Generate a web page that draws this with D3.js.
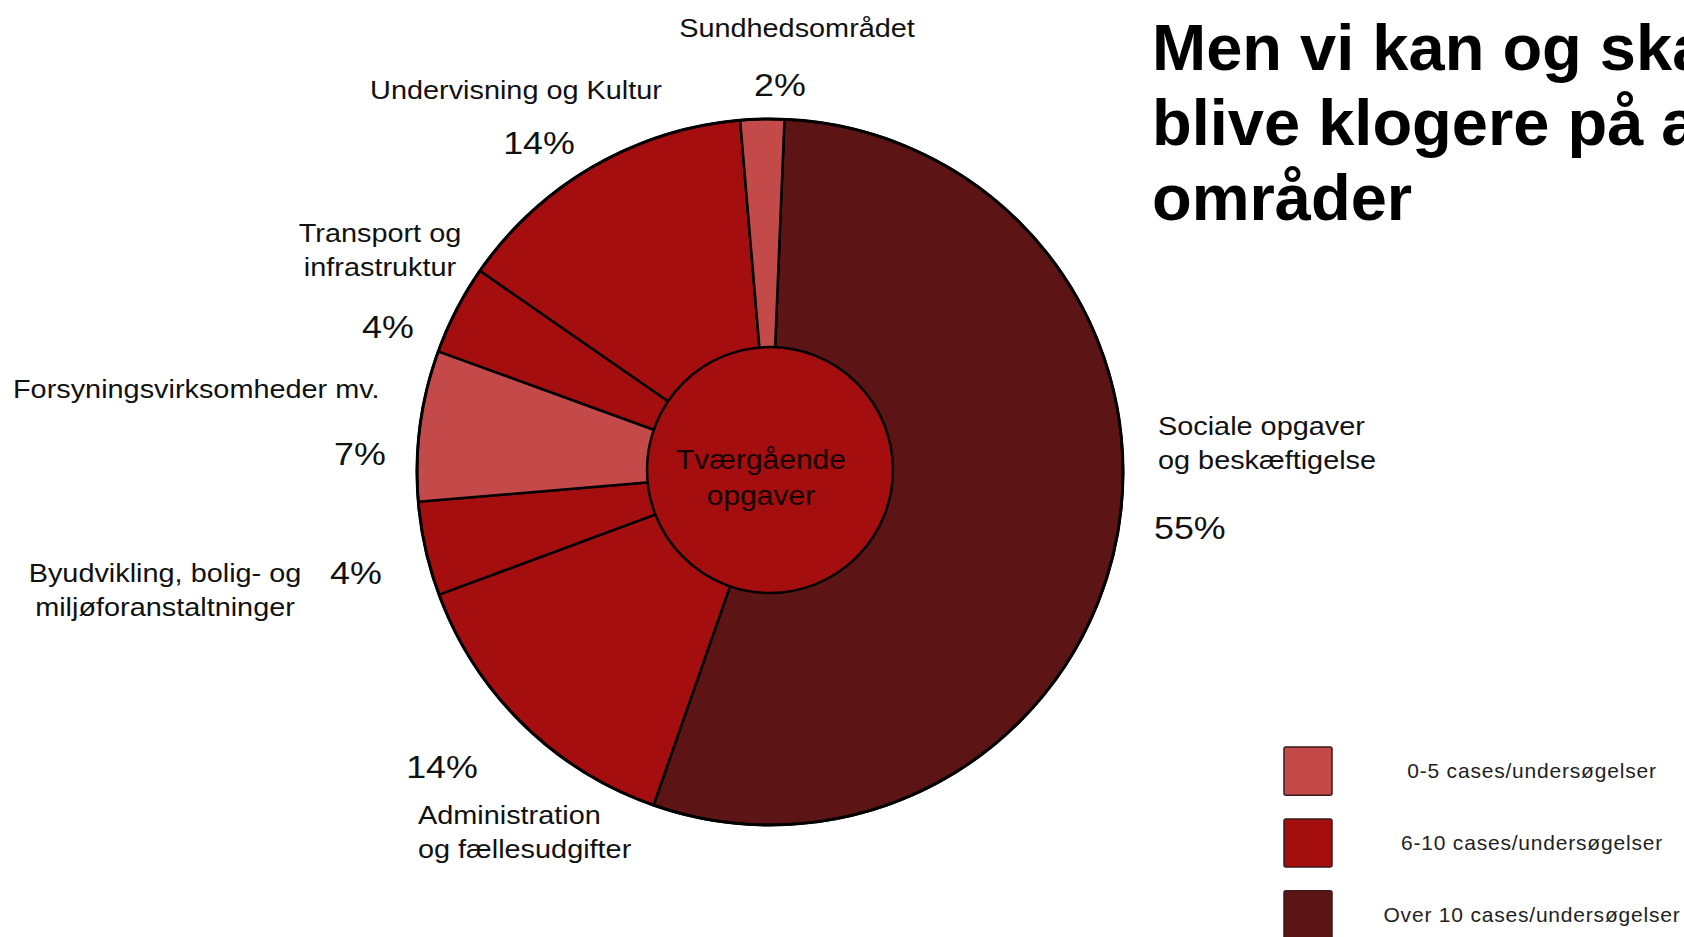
<!DOCTYPE html>
<html lang="da">
<head>
    <meta charset="UTF-8">
    <title>Tværgående opgaver - fordeling</title>
    <script src="https://cdnjs.cloudflare.com/ajax/libs/d3/7.8.5/d3.min.js"></script>
    <style>
        body {
            margin: 0;
            padding: 0;
            background: #fff;
        }
        svg {
            display: block;
            font-family: "Liberation Sans", Arial, sans-serif;
        }
    </style>
</head>
<body>
    <svg width="1684" height="937"></svg>

    <script>
        // data
        const categories = [
            "Sociale opgaver og beskæftigelse",
            "Administration og fællesudgifter",
            "Byudvikling, bolig- og miljøforanstaltninger",
            "Forsyningsvirksomheder mv.",
            "Transport og infrastruktur",
            "Undervisning og Kultur",
            "Sundhedsområdet"
        ];
        const shares = [54.7, 14.0, 4.3, 6.9, 4.1, 14.0, 2.0];
        // which legend group each area belongs to (0 = 0-5, 1 = 6-10, 2 = over 10)
        const caseGroup = [2, 1, 1, 0, 1, 1, 0];
        const legendLabels = ["0-5 cases/undersøgelser", "6-10 cases/undersøgelser", "Over 10 cases/undersøgelser"];
        const centerLabel = ["Tværgående", "opgaver"];
        const titleLines = ["Men vi kan og skal", "blive klogere på alle", "områder"];

        // label placement on the slide (lines, anchor, position of name and percentage)
        const labelLayout = [
            { lines: ["Sociale opgaver", "og beskæftigelse"], anchor: "start", x: 1158, y: 435, px: 1154, py: 539, panchor: "start" },
            { lines: ["Administration", "og fællesudgifter"], anchor: "start", x: 418, y: 824, px: 442, py: 778, panchor: "middle" },
            { lines: ["Byudvikling, bolig- og", "miljøforanstaltninger"], anchor: "middle", x: 165, y: 582, px: 356, py: 584, panchor: "middle" },
            { lines: ["Forsyningsvirksomheder mv."], anchor: "start", x: 13, y: 398, px: 360, py: 465, panchor: "middle" },
            { lines: ["Transport og", "infrastruktur"], anchor: "middle", x: 380, y: 242, px: 388, py: 338, panchor: "middle" },
            { lines: ["Undervisning og Kultur"], anchor: "middle", x: 516, y: 99, px: 539, py: 154, panchor: "middle" },
            { lines: ["Sundhedsområdet"], anchor: "middle", x: 797, y: 37, px: 780, py: 96, panchor: "middle" }
        ];

        const width = 1684;
        const height = 937;
        const cx = 770, cy = 472;
        const outerR = 353;
        const innerR = 123;
        const stretch = 1.11;

        const groupColor = d3.scaleOrdinal()
            .domain([0, 1, 2])
            .range(["#c44a4a", "#a50e0e", "#5d1414"]);

        const svg = d3.select("svg")
            .attr("width", width)
            .attr("height", height);

        svg.append("rect")
            .attr("width", width)
            .attr("height", height)
            .attr("fill", "#fff");

        const data = categories.map((c, i) => ({ name: c, value: shares[i], group: caseGroup[i], layout: labelLayout[i] }));

        const startAngle = 2.35 * Math.PI / 180;
        const pie = d3.pie()
            .sort(null)
            .value(d => d.value)
            .startAngle(startAngle)
            .endAngle(startAngle + 2 * Math.PI);

        const arc = d3.arc()
            .innerRadius(0)
            .outerRadius(outerR);

        const g = svg.append("g")
            .attr("transform", `translate(${cx},${cy})`);

        g.selectAll("path.slice")
            .data(pie(data))
            .enter().append("path")
            .attr("class", "slice")
            .attr("d", arc)
            .attr("fill", d => groupColor(d.data.group))
            .attr("stroke", "#000")
            .attr("stroke-width", 2.5)
            .attr("stroke-linejoin", "round");

        // heavier outline round the whole pie
        g.append("circle")
            .attr("r", outerR)
            .attr("fill", "none")
            .attr("stroke", "#000")
            .attr("stroke-width", 3);

        g.append("circle")
            .attr("cy", -2)
            .attr("r", innerR)
            .attr("fill", groupColor(1))
            .attr("stroke", "#000")
            .attr("stroke-width", 2.5);

        g.append("text")
            .attr("transform", `translate(-9,0) scale(${stretch},1)`)
            .attr("text-anchor", "middle")
            .attr("font-size", 27)
            .attr("fill", "#140000")
            .selectAll("tspan")
            .data(centerLabel)
            .enter().append("tspan")
            .attr("x", 0)
            .attr("y", (d, i) => -3 + i * 36)
            .text(d => d);

        // category names and percentages
        const labels = svg.append("g").attr("fill", "#111");

        data.forEach(d => {
            const L = d.layout;
            labels.append("text")
                .attr("transform", `translate(${L.x},${L.y}) scale(${stretch},1)`)
                .attr("text-anchor", L.anchor)
                .attr("font-size", 26)
                .selectAll("tspan")
                .data(L.lines)
                .enter().append("tspan")
                .attr("x", 0)
                .attr("y", (t, i) => i * 34)
                .text(t => t);

            labels.append("text")
                .attr("transform", `translate(${L.px},${L.py}) scale(1.12,1)`)
                .attr("text-anchor", L.panchor)
                .attr("font-size", 32)
                .text(Math.round(d.value) + "%");
        });

        // title (runs off the right edge like on the slide)
        svg.append("text")
            .attr("font-size", 65)
            .attr("font-weight", "bold")
            .attr("fill", "#000")
            .selectAll("tspan")
            .data(titleLines)
            .enter().append("tspan")
            .attr("x", 1152)
            .attr("y", (d, i) => 70 + i * 75)
            .text(d => d);

        // legend
        const legendY = d3.scaleBand()
            .domain(d3.range(legendLabels.length))
            .range([747, 939])
            .paddingInner(0.33);

        const legend = svg.append("g");

        legend.selectAll("rect")
            .data(legendLabels)
            .enter().append("rect")
            .attr("x", 1284)
            .attr("y", (d, i) => legendY(i))
            .attr("width", 48)
            .attr("height", legendY.bandwidth())
            .attr("rx", 2)
            .attr("fill", (d, i) => groupColor(i))
            .attr("stroke", "#3a1a1a")
            .attr("stroke-width", 1.5);

        legend.selectAll("text")
            .data(legendLabels)
            .enter().append("text")
            .attr("x", 1532)
            .attr("y", (d, i) => legendY(i) + legendY.bandwidth() / 2 + 7)
            .attr("text-anchor", "middle")
            .attr("font-size", 21)
            .attr("fill", "#222")
            .attr("letter-spacing", 0.8)
            .text(d => d);
    </script>
</body>
</html>
